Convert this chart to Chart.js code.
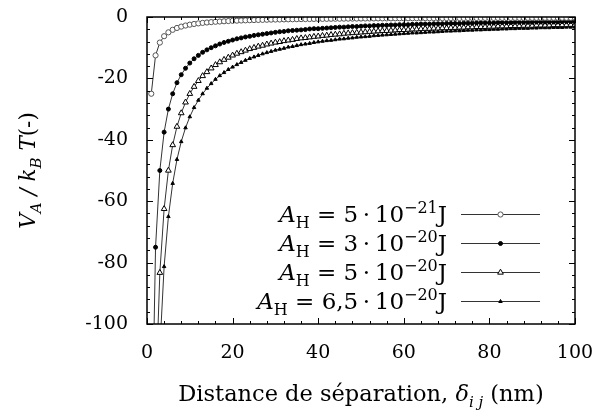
<!DOCTYPE html>
<html>
<head>
<meta charset="utf-8">
<script src="https://cdn.jsdelivr.net/npm/chart.js@4/dist/chart.umd.min.js"></script>
<style>
  html, body { margin: 0; padding: 0; background: #fff; }
</style>
</head>
<body>
<canvas id="myChart" width="599" height="416"></canvas>
<script>
// separation distance (nm)
const distances = [
  1, 2, 3, 4, 5, 6, 7, 8, 9, 10, 11, 12, 13, 14, 15, 16, 17, 18, 19, 20,
  21, 22, 23, 24, 25, 26, 27, 28, 29, 30, 31, 32, 33, 34, 35, 36, 37, 38, 39, 40,
  41, 42, 43, 44, 45, 46, 47, 48, 49, 50, 51, 52, 53, 54, 55, 56, 57, 58, 59, 60,
  61, 62, 63, 64, 65, 66, 67, 68, 69, 70, 71, 72, 73, 74, 75, 76, 77, 78, 79, 80,
  81, 82, 83, 84, 85, 86, 87, 88, 89, 90, 91, 92, 93, 94, 95, 96, 97, 98, 99, 100
];

// V_A / kT for A_H = 5e-21 J
const vA1 = [
  -25, -12.5, -8.33, -6.25, -5, -4.17, -3.57, -3.13, -2.78, -2.5,
  -2.27, -2.08, -1.92, -1.79, -1.67, -1.56, -1.47, -1.39, -1.32, -1.25,
  -1.19, -1.14, -1.09, -1.04, -1, -0.96, -0.93, -0.89, -0.86, -0.83,
  -0.81, -0.78, -0.76, -0.74, -0.71, -0.69, -0.68, -0.66, -0.64, -0.63,
  -0.61, -0.6, -0.58, -0.57, -0.56, -0.54, -0.53, -0.52, -0.51, -0.5,
  -0.49, -0.48, -0.47, -0.46, -0.45, -0.45, -0.44, -0.43, -0.42, -0.42,
  -0.41, -0.4, -0.4, -0.39, -0.38, -0.38, -0.37, -0.37, -0.36, -0.36,
  -0.35, -0.35, -0.34, -0.34, -0.33, -0.33, -0.32, -0.32, -0.32, -0.31,
  -0.31, -0.3, -0.3, -0.3, -0.29, -0.29, -0.29, -0.28, -0.28, -0.28,
  -0.27, -0.27, -0.27, -0.27, -0.26, -0.26, -0.26, -0.26, -0.25, -0.25
];

// A_H = 3e-20 J
const vA2 = [
  -150, -75, -50, -37.5, -30, -25, -21.4, -18.8, -16.7, -15,
  -13.6, -12.5, -11.5, -10.7, -10, -9.4, -8.8, -8.3, -7.9, -7.5,
  -7.1, -6.8, -6.5, -6.3, -6, -5.8, -5.6, -5.4, -5.2, -5,
  -4.8, -4.7, -4.5, -4.4, -4.3, -4.2, -4.1, -3.9, -3.8, -3.8,
  -3.7, -3.6, -3.5, -3.4, -3.3, -3.3, -3.2, -3.1, -3.1, -3,
  -2.9, -2.9, -2.8, -2.8, -2.7, -2.7, -2.6, -2.6, -2.5, -2.5,
  -2.5, -2.4, -2.4, -2.3, -2.3, -2.3, -2.2, -2.2, -2.2, -2.1,
  -2.1, -2.1, -2.1, -2, -2, -2, -1.9, -1.9, -1.9, -1.9,
  -1.9, -1.8, -1.8, -1.8, -1.8, -1.7, -1.7, -1.7, -1.7, -1.7,
  -1.6, -1.6, -1.6, -1.6, -1.6, -1.6, -1.5, -1.5, -1.5, -1.5
];

// A_H = 5e-20 J
const vA3 = [
  -250, -125, -83.3, -62.5, -50, -41.7, -35.7, -31.3, -27.8, -25,
  -22.7, -20.8, -19.2, -17.9, -16.7, -15.6, -14.7, -13.9, -13.2, -12.5,
  -11.9, -11.4, -10.9, -10.4, -10, -9.6, -9.3, -8.9, -8.6, -8.3,
  -8.1, -7.8, -7.6, -7.4, -7.1, -6.9, -6.8, -6.6, -6.4, -6.3,
  -6.1, -6, -5.8, -5.7, -5.6, -5.4, -5.3, -5.2, -5.1, -5,
  -4.9, -4.8, -4.7, -4.6, -4.5, -4.5, -4.4, -4.3, -4.2, -4.2,
  -4.1, -4, -4, -3.9, -3.8, -3.8, -3.7, -3.7, -3.6, -3.6,
  -3.5, -3.5, -3.4, -3.4, -3.3, -3.3, -3.2, -3.2, -3.2, -3.1,
  -3.1, -3, -3, -3, -2.9, -2.9, -2.9, -2.8, -2.8, -2.8,
  -2.7, -2.7, -2.7, -2.7, -2.6, -2.6, -2.6, -2.6, -2.5, -2.5
];

// A_H = 6,5e-20 J
const vA4 = [
  -325, -162.5, -108.3, -81.3, -65, -54.2, -46.4, -40.6, -36.1, -32.5,
  -29.5, -27.1, -25, -23.2, -21.7, -20.3, -19.1, -18.1, -17.1, -16.3,
  -15.5, -14.8, -14.1, -13.5, -13, -12.5, -12, -11.6, -11.2, -10.8,
  -10.5, -10.2, -9.8, -9.6, -9.3, -9, -8.8, -8.6, -8.3, -8.1,
  -7.9, -7.7, -7.6, -7.4, -7.2, -7.1, -6.9, -6.8, -6.6, -6.5,
  -6.4, -6.3, -6.1, -6, -5.9, -5.8, -5.7, -5.6, -5.5, -5.4,
  -5.3, -5.2, -5.2, -5.1, -5, -4.9, -4.9, -4.8, -4.7, -4.6,
  -4.6, -4.5, -4.5, -4.4, -4.3, -4.3, -4.2, -4.2, -4.1, -4.1,
  -4, -4, -3.9, -3.9, -3.8, -3.8, -3.7, -3.7, -3.7, -3.6,
  -3.6, -3.5, -3.5, -3.5, -3.4, -3.4, -3.4, -3.3, -3.3, -3.3
];

const legendMantissa = ["5", "3", "5", "6,5"];
const legendExponent = ["\u221221", "\u221220", "\u221220", "\u221220"];

const xMin = 0, xMax = 100, xStep = 20, xMinorStep = 4;
const yMin = -100, yMax = 0, yStep = 20, yMinorStep = 4;

const FONT = "'DejaVu Serif', serif";
const TICK = 19;

const styles = [
  { pointStyle: "circle", pointRadius: 2.6, pointBackgroundColor: "#fff", pointBorderColor: "#555", pointBorderWidth: 1 },
  { pointStyle: "circle", pointRadius: 2, pointBackgroundColor: "#000", pointBorderColor: "#000", pointBorderWidth: 1 },
  { pointStyle: "triangle", pointRadius: 3.3, pointBackgroundColor: "#fff", pointBorderColor: "#000", pointBorderWidth: 1 },
  { pointStyle: "triangle", pointRadius: 2, pointBackgroundColor: "#000", pointBorderColor: "#000", pointBorderWidth: 1 }
];

const seriesList = [vA1, vA2, vA3, vA4];

const datasets = seriesList.map((vals, i) => ({
  label: "A_H = " + legendMantissa[i] + "e" + legendExponent[i],
  data: distances.map((d, j) => ({ x: d, y: vals[j] })),
  borderColor: "#333",
  borderWidth: 1,
  tension: 0,
  ...styles[i]
}));

// draw a sequence of text pieces (italic / sub / sup) starting at x
function richText(ctx, parts, x, y, align, base) {
  const small = Math.round(base * 0.68);
  const fontOf = (p) => (p.i ? "italic " : "") + (p.sub || p.sup ? small : base) + "px " + FONT;
  let total = 0;
  parts.forEach((p) => {
    ctx.font = fontOf(p);
    p.w = ctx.measureText(p.t).width;
    total += p.w;
  });
  let cx = x;
  if (align === "center") cx = x - total / 2;
  if (align === "right") cx = x - total;
  ctx.textAlign = "left";
  ctx.textBaseline = "alphabetic";
  parts.forEach((p) => {
    ctx.font = fontOf(p);
    const dy = p.sub ? 6 : p.sup ? -9 : 0;
    ctx.fillText(p.t, cx, y + dy);
    cx += p.w;
  });
}

function drawMarker(ctx, st, x, y) {
  ctx.save();
  ctx.lineWidth = st.pointBorderWidth;
  ctx.strokeStyle = st.pointBorderColor;
  ctx.fillStyle = st.pointBackgroundColor;
  const r = st.pointRadius;
  ctx.beginPath();
  if (st.pointStyle === "circle") {
    ctx.arc(x, y, r, 0, Math.PI * 2);
  } else {
    const s = r * 3 / Math.sqrt(3);
    const h = s * Math.sqrt(3) / 2;
    ctx.moveTo(x - s / 2, y + h / 3);
    ctx.lineTo(x + s / 2, y + h / 3);
    ctx.lineTo(x, y - 2 * h / 3);
    ctx.closePath();
  }
  ctx.fill();
  ctx.stroke();
  ctx.restore();
}

const framePlugin = {
  id: "framePlugin",
  afterDraw(chart) {
    const { ctx, chartArea: a, scales } = chart;
    const xs = scales.x, ys = scales.y;
    ctx.save();
    ctx.strokeStyle = "#000";
    ctx.fillStyle = "#000";

    // inward ticks on all four sides
    ctx.lineWidth = 1;
    ctx.beginPath();
    for (let v = xMin; v <= xMax; v += xMinorStep) {
      const px = Math.round(xs.getPixelForValue(v)) + 0.5;
      const len = v % xStep === 0 ? 6 : 3;
      ctx.moveTo(px, a.bottom); ctx.lineTo(px, a.bottom - len);
      ctx.moveTo(px, a.top); ctx.lineTo(px, a.top + len);
    }
    for (let v = yMin; v <= yMax; v += yMinorStep) {
      const py = Math.round(ys.getPixelForValue(v)) + 0.5;
      const len = v % yStep === 0 ? 6 : 3;
      ctx.moveTo(a.left, py); ctx.lineTo(a.left + len, py);
      ctx.moveTo(a.right, py); ctx.lineTo(a.right - len, py);
    }
    ctx.stroke();

    ctx.lineWidth = 1.5;
    ctx.strokeRect(a.left, a.top, a.right - a.left, a.bottom - a.top);

    // legend
    const rowY = [214, 243, 272, 301];
    for (let i = 0; i < 4; i++) {
      const y = rowY[i];
      ctx.lineWidth = 1;
      ctx.strokeStyle = "#333";
      ctx.beginPath();
      ctx.moveTo(461, y + 0.5); ctx.lineTo(540, y + 0.5);
      ctx.stroke();
      drawMarker(ctx, styles[i], 500.5, y + 0.5);
      richText(ctx, [
        { t: "A", i: true },
        { t: "H", sub: true },
        { t: " = " + legendMantissa[i] + "\u2009\u00b7\u200910" },
        { t: legendExponent[i], sup: true },
        { t: "J" }
      ], 447, y + 7.5, "right", 23);
    }

    // x title
    richText(ctx, [
      { t: "Distance de s\u00e9paration, " },
      { t: "\u03b4", i: true },
      { t: "i j", i: true, sub: true },
      { t: " (nm)" }
    ], (a.left + a.right) / 2, 401, "center", 22.5);

    // y title (rotated)
    ctx.translate(35, (a.top + a.bottom) / 2);
    ctx.rotate(-Math.PI / 2);
    richText(ctx, [
      { t: "V", i: true },
      { t: "A", i: true, sub: true },
      { t: " / ", i: true },
      { t: "k", i: true },
      { t: "B", i: true, sub: true },
      { t: " T", i: true },
      { t: "(-)" }
    ], 0, 0, "center", 21.5);
    ctx.restore();
  }
};

new Chart(document.getElementById("myChart").getContext("2d"), {
  type: "line",
  data: { datasets },
  plugins: [framePlugin],
  options: {
    responsive: false,
    animation: false,
    devicePixelRatio: 1,
    layout: { padding: { left: 0, right: 24, top: 17, bottom: 0 } },
    plugins: { legend: { display: false }, tooltip: { enabled: false } },
    scales: {
      x: {
        type: "linear",
        min: xMin,
        max: xMax,
        grid: { display: false, drawTicks: false },
        border: { display: false },
        ticks: { stepSize: xStep, color: "#000", font: { family: FONT, size: TICK }, padding: 18, maxRotation: 0 },
        afterFit: (s) => { s.height = 92; s.paddingLeft = 0; s.paddingRight = 0; }
      },
      y: {
        type: "linear",
        min: yMin,
        max: yMax,
        grid: { display: false, drawTicks: false },
        border: { display: false },
        ticks: { stepSize: yStep, color: "#000", font: { family: FONT, size: TICK }, padding: 19 },
        afterFit: (s) => { s.width = 147; s.paddingTop = 0; s.paddingBottom = 0; }
      }
    }
  }
});
</script>
</body>
</html>
